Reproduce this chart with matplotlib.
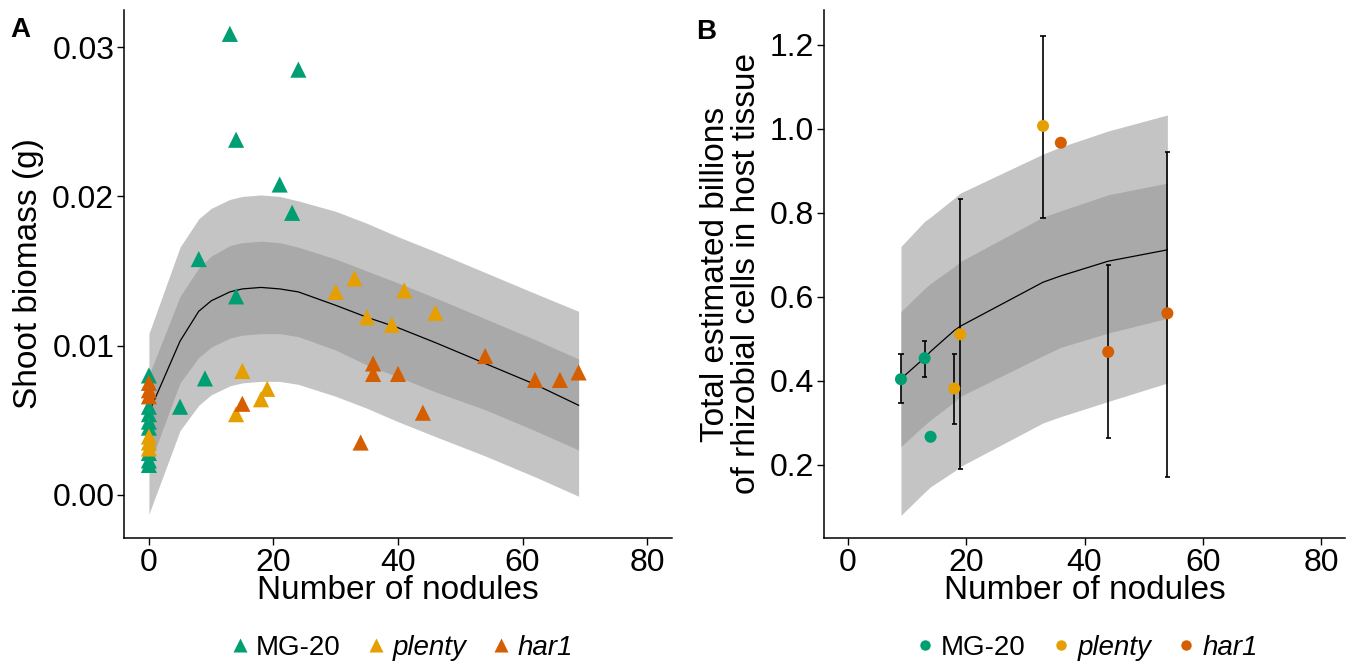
import matplotlib
matplotlib.use("Agg")
import matplotlib.pyplot as plt
import numpy as np
from matplotlib.lines import Line2D

plt.rcParams['font.family'] = ['Liberation Sans', 'DejaVu Sans']

# ---------------- Panel A data ----------------
mg20_x = [13, 24, 14, 21, 23, 8, 14, 9, 5, 0, 0, 0, 0, 0, 0, 0, 0]
mg20_y = [0.0309, 0.0285, 0.0238, 0.0208, 0.0189, 0.0158, 0.0133, 0.0078, 0.0059,
          0.0080, 0.0059, 0.0054, 0.0049, 0.0045, 0.0028, 0.0023, 0.0020]
plenty_x = [15, 19, 18, 14, 30, 33, 41, 35, 46, 39, 0, 0, 0]
plenty_y = [0.0083, 0.0071, 0.0064, 0.0054, 0.0136, 0.0145, 0.0137, 0.0119, 0.0122, 0.0114,
            0.0039, 0.0035, 0.0031]
har1_x = [15, 54, 36, 36, 40, 62, 66, 69, 44, 34, 0, 0, 0]
har1_y = [0.0061, 0.0093, 0.0088, 0.0081, 0.0081, 0.0077, 0.0077, 0.0082, 0.0055, 0.0035,
          0.0075, 0.0070, 0.0066]

fitA_x = [0, 5, 8, 10, 13, 15, 18, 21, 24, 30, 35, 40, 46, 54, 62, 69]
fitA_y = [0.0055, 0.0103, 0.0123, 0.0130, 0.0136, 0.0138, 0.0139, 0.0138, 0.0136, 0.0127, 0.0119, 0.0112, 0.0102, 0.0088, 0.0074, 0.0060]
outA_hi = [0.0108, 0.0166, 0.0185, 0.0192, 0.0198, 0.0200, 0.0201, 0.0200, 0.0197, 0.0190, 0.0182, 0.0173, 0.0163, 0.0149, 0.0135, 0.0123]
inA_hi = [0.0080, 0.0133, 0.0152, 0.0160, 0.0167, 0.0169, 0.0170, 0.0169, 0.0166, 0.0158, 0.0150, 0.0142, 0.0132, 0.0118, 0.0104, 0.0091]
inA_lo = [0.0019, 0.0075, 0.0092, 0.0099, 0.0105, 0.0107, 0.0108, 0.0108, 0.0106, 0.0097, 0.0087, 0.0079, 0.0069, 0.0057, 0.0043, 0.0030]
outA_lo = [-0.0013, 0.0043, 0.0060, 0.0067, 0.0073, 0.0075, 0.0076, 0.0076, 0.0074, 0.0066, 0.0058, 0.0049, 0.0039, 0.0026, 0.0012, -0.0001]

# ---------------- Panel B data ----------------
b_mg20_x = [9, 13, 14]
b_mg20_y = [0.404, 0.454, 0.267]
b_mg20_lo = [0.348, 0.410, np.nan]
b_mg20_hi = [0.464, 0.496, np.nan]
b_plenty_x = [18, 19, 33]
b_plenty_y = [0.382, 0.511, 1.007]
b_plenty_lo = [0.297, 0.190, 0.789]
b_plenty_hi = [0.464, 0.833, 1.221]
b_har1_x = [36, 44, 54]
b_har1_y = [0.967, 0.469, 0.561]
b_har1_lo = [np.nan, 0.264, 0.172]
b_har1_hi = [np.nan, 0.675, 0.945]

fitB_x = [9, 13, 14, 18, 19, 33, 36, 44, 54]
fitB_y = [0.405, 0.455, 0.470, 0.520, 0.530, 0.635, 0.650, 0.685, 0.712]
outB_hi = [0.720, 0.780, 0.790, 0.835, 0.847, 0.940, 0.957, 0.995, 1.033]
inB_hi = [0.565, 0.620, 0.632, 0.672, 0.684, 0.790, 0.805, 0.843, 0.871]
inB_lo = [0.244, 0.295, 0.307, 0.350, 0.363, 0.460, 0.480, 0.514, 0.549]
outB_lo = [0.080, 0.135, 0.148, 0.185, 0.196, 0.300, 0.315, 0.351, 0.395]

groups = ['MG-20', 'plenty', 'har1']
colors = ['#009E73', '#E69F00', '#D55E00']
xticks = [0, 20, 40, 60, 80]

W, H = 1353, 663
fig = plt.figure(figsize=(W / 100, H / 100), dpi=100)

def frac(l, r, t, b):
    return [l / W, 1 - b / H, (r - l) / W, (b - t) / H]

axA = fig.add_axes(frac(124, 672, 10, 538))
axB = fig.add_axes(frac(824, 1345, 10, 538))

out_col = '#C4C4C4'
in_col = '#A9A9A9'
FS = 23

def style(ax):
    for s in ['top', 'right']:
        ax.spines[s].set_visible(False)
    for s in ['left', 'bottom']:
        ax.spines[s].set_linewidth(1.1)
        ax.spines[s].set_color('black')
    ax.tick_params(axis='both', direction='out', length=5, width=1.0,
                   labelsize=FS, colors='black', pad=2)
    ax.set_xlim(-4, 84)
    ax.set_xticks(xticks)

# Panel A
axA.fill_between(fitA_x, outA_lo, outA_hi, color=out_col, lw=0, zorder=1)
axA.fill_between(fitA_x, inA_lo, inA_hi, color=in_col, lw=0, zorder=2)
axA.plot(fitA_x, fitA_y, color='black', lw=0.9, zorder=3)
for xs, ys, c in zip([mg20_x, plenty_x, har1_x], [mg20_y, plenty_y, har1_y], colors):
    axA.scatter(xs, ys, marker='^', s=135, color=c, edgecolors='none', zorder=4)
style(axA)
axA.set_ylim(-0.0029, 0.0325)
axA.set_yticks([0.00, 0.01, 0.02, 0.03])
axA.set_yticklabels(['0.00', '0.01', '0.02', '0.03'])
axA.set_xlabel('Number of nodules', fontsize=24, labelpad=-2)
axA.set_ylabel('Shoot biomass (g)', fontsize=24, labelpad=6)

# Panel B
axB.fill_between(fitB_x, outB_lo, outB_hi, color=out_col, lw=0, zorder=1)
axB.fill_between(fitB_x, inB_lo, inB_hi, color=in_col, lw=0, zorder=2)
axB.plot(fitB_x, fitB_y, color='black', lw=0.9, zorder=3)
for xs, ys, lo, hi, c in zip([b_mg20_x, b_plenty_x, b_har1_x],
                             [b_mg20_y, b_plenty_y, b_har1_y],
                             [b_mg20_lo, b_plenty_lo, b_har1_lo],
                             [b_mg20_hi, b_plenty_hi, b_har1_hi], colors):
    xs_a = np.array(xs, float); lo_a = np.array(lo, float); hi_a = np.array(hi, float)
    m = ~np.isnan(lo_a)
    axB.vlines(xs_a[m], lo_a[m], hi_a[m], color='black', lw=1.2, zorder=4)
    for xv, l, h in zip(xs_a[m], lo_a[m], hi_a[m]):
        axB.hlines([l, h], xv - 0.45, xv + 0.45, color='black', lw=1.2, zorder=4)
    axB.scatter(xs, ys, marker='o', s=75, color=c, edgecolors='none', zorder=5)
style(axB)
axB.set_ylim(0.026, 1.283)
axB.set_yticks([0.2, 0.4, 0.6, 0.8, 1.0, 1.2])
axB.set_yticklabels(['0.2', '0.4', '0.6', '0.8', '1.0', '1.2'])
axB.set_xlabel('Number of nodules', fontsize=24, labelpad=-2)
axB.set_ylabel('Total estimated billions\nof rhizobial cells in host tissue',
               fontsize=24, labelpad=6, linespacing=1.0)

# Panel letters
fig.text(10 / W, 1 - 30 / H, 'A', fontsize=20, fontweight='bold', va='center', ha='left')
fig.text(696 / W, 1 - 32 / H, 'B', fontsize=20, fontweight='bold', va='center', ha='left')

# Legends
def make_legend(marker, ms, cx):
    handles = [Line2D([], [], ls='none', marker=marker, ms=ms, color=c, mec='none') for c in colors]
    leg = fig.legend(handles, groups, loc='center', bbox_to_anchor=(cx / W, 1 - 648 / H),
                     ncol=3, frameon=False, fontsize=20, handletextpad=0.15,
                     columnspacing=0.8, handlelength=0.9, borderaxespad=0)
    for t in leg.get_texts()[1:]:
        t.set_style('italic')
    return leg

make_legend('^', 10, 400)
make_legend('o', 7.5, 1085)

fig.savefig('out.png', dpi=100)
